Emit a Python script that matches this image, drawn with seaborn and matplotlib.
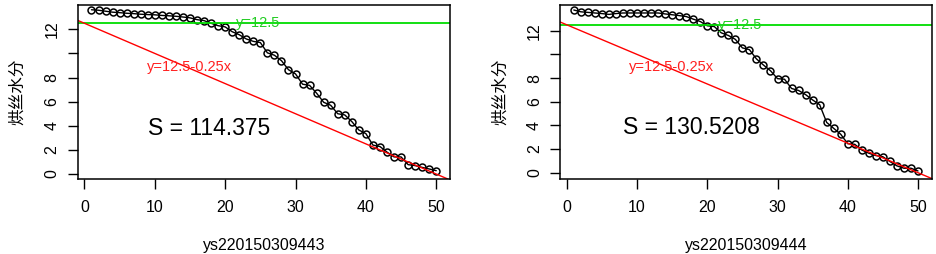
import numpy as np
import pandas as pd
import matplotlib
matplotlib.use("Agg")
import matplotlib.pyplot as plt
import seaborn as sns

sns.set_style("ticks")
plt.rcParams['font.family'] = ['Liberation Sans', 'Noto Sans CJK SC', 'DejaVu Sans']
plt.rcParams['text.color'] = 'black'
plt.rcParams['axes.labelcolor'] = 'black'

# data
x = list(range(1, 51))
y_443 = [13.62, 13.58, 13.50, 13.42, 13.38, 13.33, 13.30, 13.25, 13.22, 13.20,
         13.15, 13.12, 13.08, 13.02, 12.95, 12.80, 12.72, 12.50, 12.30, 12.20,
         11.80, 11.55, 11.20, 11.00, 10.90, 10.05, 9.85, 9.40, 8.65, 8.30,
         7.45, 7.35, 6.70, 5.95, 5.70, 5.00, 4.90, 4.35, 3.65, 3.35,
         2.40, 2.28, 1.82, 1.42, 1.42, 0.78, 0.70, 0.55, 0.42, 0.28]
y_444 = [13.75, 13.60, 13.55, 13.50, 13.45, 13.38, 13.45, 13.50, 13.50, 13.50,
         13.50, 13.50, 13.50, 13.42, 13.35, 13.28, 13.20, 12.98, 12.78, 12.42,
         12.35, 11.82, 11.60, 11.27, 10.55, 10.40, 9.62, 9.10, 8.62, 7.95,
         7.90, 7.12, 6.95, 6.60, 6.15, 5.75, 4.25, 3.75, 3.25, 2.45,
         2.40, 1.92, 1.65, 1.45, 1.35, 0.95, 0.58, 0.38, 0.38, 0.15]
names = ["ys220150309443", "ys220150309444"]
s_values = ["114.375", "130.5208"]
ylabel = "烘丝水分"
h_level = 12.5
slope = -0.25
yticks = [0, 2, 4, 6, 8, 10, 12]
ytick_labels = ["0", "2", "4", "6", "8", "", "12"]
xticks = [0, 10, 20, 30, 40, 50]

fig = plt.figure(figsize=(9.37, 2.54), dpi=100)
ax1 = fig.add_axes([0.0829, 0.2953, 0.3974, 0.6862])
ax2 = fig.add_axes([0.5977, 0.2953, 0.3967, 0.6862])
ylims = [(-0.41, 14.04), (-0.53, 14.2)]

for ax, yv, name, s, yl in zip([ax1, ax2], [y_443, y_444], names, s_values, ylims):
    df = pd.DataFrame({"x": x, "y": yv})
    sns.lineplot(data=df, x="x", y="y", ax=ax, color="black", lw=1.0,
                 marker="o", markersize=5.0, markerfacecolor="none",
                 markeredgecolor="black", markeredgewidth=1.1)
    ax.axhline(h_level, color="#00dd00", lw=1.3)
    ax.axline((0, h_level), slope=slope, color="#ff0000", lw=1.0)
    ax.text(24.7, 12.5, "y=12.5", color="#22cc22", fontsize=10.5, ha="center", va="center")
    ax.text(14.9, 8.9, "y=12.5-0.25x", color="#ff2020", fontsize=10.5, ha="center", va="center")
    ax.text(17.7, 3.8, "S = " + s, color="black", fontsize=16.5, ha="center", va="center")

    ax.set_xlim(-0.96, 51.96)
    ax.set_ylim(*yl)
    ax.set_xticks(xticks)
    ax.set_yticks(yticks)
    ax.set_yticklabels(ytick_labels, rotation=90, va="center")
    ax.tick_params(axis="both", direction="out", length=7, width=1, colors="black",
                   labelsize=11.5)
    ax.tick_params(axis="x", pad=8)
    ax.tick_params(axis="y", pad=6)
    for sp in ax.spines.values():
        sp.set_visible(True)
        sp.set_color("black")
        sp.set_linewidth(1.1)
    ax.set_xlabel(name, fontsize=11.5, labelpad=17)
    ax.set_ylabel(ylabel, fontsize=12, labelpad=14)

fig.savefig("out.png", dpi=100)
